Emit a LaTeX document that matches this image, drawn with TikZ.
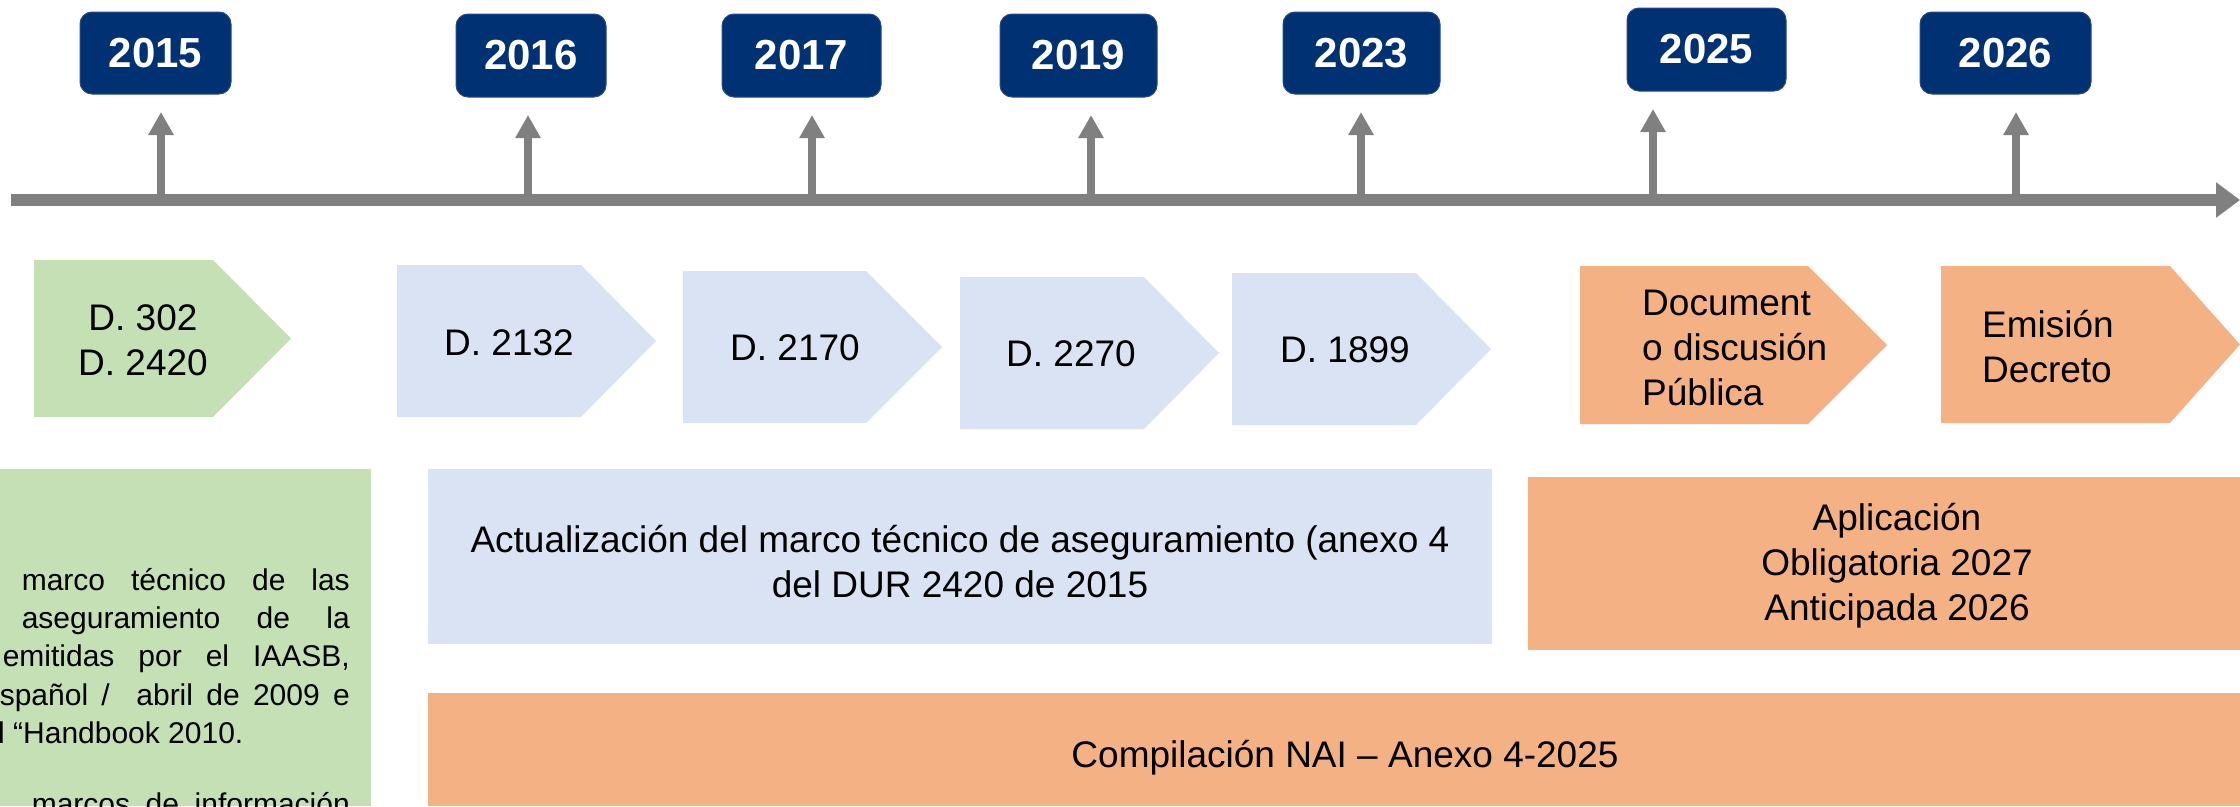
\documentclass[tikz,border=0pt]{standalone}
\usepackage{fontspec}
\setmainfont{Liberation Sans}
\usetikzlibrary{arrows.meta}
\definecolor{navy}{RGB}{0,49,115}
\definecolor{navyedge}{RGB}{40,75,135}
\definecolor{tlgray}{RGB}{128,128,128}
\definecolor{greenF}{RGB}{197,224,180}
\definecolor{blueF}{RGB}{218,227,243}
\definecolor{orangeF}{RGB}{244,177,131}
\begin{document}
\begin{tikzpicture}[x=1pt,y=-1pt,
  yearbox/.style={fill=navy, draw=navyedge, line width=1pt, rounded corners=12pt, text=white,
    font=\fontsize{42}{50}\selectfont\bfseries, inner sep=0pt},
  uparr/.style={draw=tlgray, line width=7.5pt, -{Triangle[width=24pt,length=23pt]}, shorten >=17.5pt},
  timeline/.style={draw=tlgray, line width=12pt, -{Triangle[width=34pt,length=24pt]}},
  body/.style={font=\fontsize{37}{45}\selectfont, inner sep=0pt, text=black},
  greentxt/.style={font=\fontsize{30}{38}\selectfont, inner sep=0pt, text=black, anchor=base east},
]
\useasboundingbox (0,0) rectangle (2240,806);
\clip (0,0) rectangle (2240,806);

% year boxes
\node[yearbox, minimum width=151pt, minimum height=82pt] (y2015) at (155.5,53) {2015};
\node[yearbox, minimum width=150pt, minimum height=83pt] (y2016) at (531,55.5) {2016};
\node[yearbox, minimum width=159pt, minimum height=83pt] (y2017) at (801.5,55.5) {2017};
\node[yearbox, minimum width=157pt, minimum height=83pt] (y2019) at (1078.5,55.5) {2019};
\node[yearbox, minimum width=157pt, minimum height=82pt] (y2023) at (1361.5,53) {2023};
\node[yearbox, minimum width=159pt, minimum height=83pt] (y2025) at (1706.5,49.5) {2025};
\node[yearbox, minimum width=171pt, minimum height=82pt] (y2026) at (2005.5,53) {2026};

% timeline
\coordinate (tl0) at (11,200);
\coordinate (tl1) at (2240,200);
\draw[timeline] (tl0) -- (tl1);

% up arrows
\coordinate (a2015) at (161,200);
\coordinate (a2016) at (528,200);
\coordinate (a2017) at (812,200);
\coordinate (a2019) at (1091,200);
\coordinate (a2023) at (1361,200);
\coordinate (a2025) at (1653,200);
\coordinate (a2026) at (2016,200);
\foreach \y in {2015,2016,2017,2019,2023,2025,2026}{
  \draw[uparr] (a\y) -- (a\y |- y\y.south);
}

% chevrons
\fill[greenF] (34,260) -- (213,260) -- (291,338.5) -- (213,417) -- (34,417) -- cycle;
\fill[blueF] (397,265) -- (581,265) -- (656,341) -- (581,417) -- (397,417) -- cycle;
\fill[blueF] (683,271) -- (866,271) -- (942,347) -- (866,423) -- (683,423) -- cycle;
\fill[blueF] (960,277) -- (1144,277) -- (1219,353) -- (1144,429) -- (960,429) -- cycle;
\fill[blueF] (1232,273) -- (1416,273) -- (1491,349) -- (1416,425) -- (1232,425) -- cycle;
\fill[orangeF] (1580,266) -- (1808,266) -- (1887,345) -- (1808,424) -- (1580,424) -- cycle;
\fill[orangeF] (1941,266) -- (2170,266) -- (2240,344.5) -- (2170,423) -- (1941,423) -- cycle;

\node[body, align=center] (d302) at (143,340) {D. 302\\D. 2420};
\node[body] (d2132) at (509,343) {D. 2132};
\node[body] (d2170) at (795,348) {D. 2170};
\node[body] (d2270) at (1071,354) {D. 2270};
\node[body] (d1899) at (1345,350) {D. 1899};
\node[body, align=left, anchor=west] (doc) at (1642,348) {Document\\o discusión\\Pública};
\node[body, align=left, anchor=west] (emi) at (1982,347) {Emisión\\Decreto};

% lower boxes
\fill[blueF] (428,469) rectangle (1492,644);
\fill[orangeF] (1528,477) rectangle (2240,650);
\fill[orangeF] (428,693) rectangle (2240,806);
\fill[greenF] (0,469) rectangle (371,806);

\node[body, align=center] (act) at (960,562) {Actualización del marco técnico de aseguramiento (anexo 4\\del DUR 2420 de 2015};
\node[body, align=center] (apl) at (1897,566) {Aplicación\\Obligatoria 2027\\Anticipada 2026};
\node[body, anchor=base] (comp) at (1345,767) {Compilación NAI – Anexo 4-2025};

% green paragraph (cut by the picture edge)
\node[greentxt] (g1) at (350,590) {\makebox[328pt][s]{marco técnico de las}};
\node[greentxt] (g2) at (350,628) {\makebox[328pt][s]{aseguramiento de la}};
\node[greentxt] (g3) at (350,666) {\makebox[347pt][s]{emitidas por el IAASB,}};
\node[greentxt] (g4) at (350,705) {\makebox[350pt][s]{spañol / \ abril de 2009 e}};
\node[greentxt, anchor=base west] (g5) at (-2,743) {l “Handbook 2010.};
\node[greentxt] (g6) at (350,814) {\makebox[318pt][s]{marcos de información}};
\end{tikzpicture}
\end{document}
